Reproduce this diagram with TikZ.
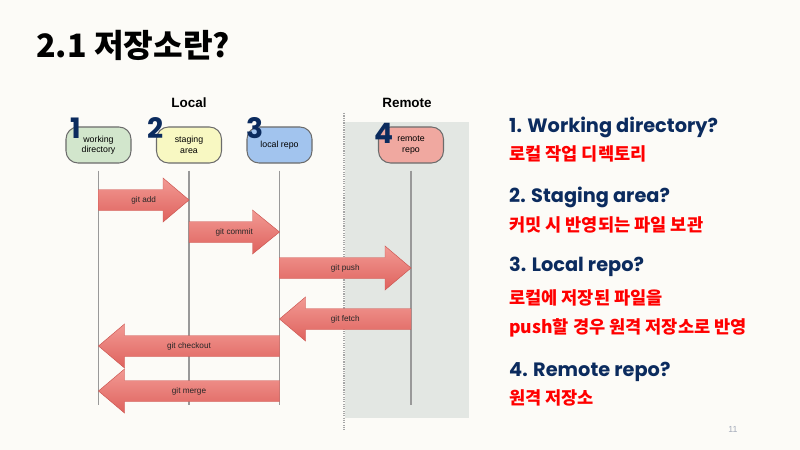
\documentclass[tikz,border=0pt]{standalone}
\usepackage{fontspec}
\setmainfont{Liberation Sans}
\newfontfamily\krfont{Noto Sans CJK KR}
\newfontfamily\headfont{Poppins}
\usetikzlibrary{calc,positioning}

\definecolor{paper}{HTML}{FCFBF7}
\definecolor{navy}{HTML}{0B2B5E}
\definecolor{remotebg}{HTML}{E3E7E3}
\definecolor{wdfill}{HTML}{D2E6CC}
\definecolor{stfill}{HTML}{F8F8C2}
\definecolor{lrfill}{HTML}{A2C4EE}
\definecolor{rrfill}{HTML}{F0A8A0}
\definecolor{arrowtop}{HTML}{F29A94}
\definecolor{arrowbot}{HTML}{DF625D}
\definecolor{arrowedge}{HTML}{CC5550}
\definecolor{pagegray}{HTML}{A4ABBA}

\tikzset{
  repo/.style={draw=gray!85!black, line width=0.9pt, rounded corners=0.36cm,
    minimum width=1.95cm, minimum height=1.08cm, align=center,
    font=\fontsize{7.5}{8.8}\selectfont, inner sep=1pt},
  lifeline/.style={draw=gray!80, line width=1.1pt},
  blockarr/.style={draw=arrowedge, line width=0.4pt, top color=arrowtop, bottom color=arrowbot},
  arrlabel/.style={font=\fontsize{7}{8}\selectfont, text=black!85},
  numlabel/.style={font=\headfont\bfseries\fontsize{24}{24}\selectfont, text=navy, inner sep=0},
  qhead/.style={anchor=west, font=\headfont\bfseries\fontsize{16.5}{18}\selectfont, text=navy, inner sep=0},
  qbody/.style={anchor=west, font=\krfont\bfseries\fontsize{15}{17}\selectfont, text=red, inner sep=0},
}

% block arrow between two lifelines: from, to, y, head offset, label
\newcommand{\gitarrow}[5]{%
  \coordinate (tail) at (#1 |- 0,#3);
  \coordinate (tip) at (#2 |- 0,#3);
  \draw[blockarr] ($(tail)+(0,-10.5)$) -- ($(tip)+(#4,-10.5)$) -- ($(tip)+(#4,-22)$)
    -- (tip) -- ($(tip)+(#4,22)$) -- ($(tip)+(#4,10.5)$) -- ($(tail)+(0,10.5)$) -- cycle;
  \node[arrlabel] at ($(tail)!0.5!(tip)$) {#5};
}

\begin{document}
\begin{tikzpicture}[x=0.03cm, y=-0.03cm]
  % page
  \fill[paper] (0,0) rectangle (800,450);
  \node[anchor=west, inner sep=0, font=\krfont\bfseries\fontsize{27.5}{30}\selectfont] (title) at (36,45) {2.1 저장소란?};

  % remote area
  \fill[remotebg] (345,122) rectangle (469,418);
  \draw[gray!70, densely dotted, line width=1pt] (344,113) -- (344,430);
  \node[font=\bfseries\fontsize{11.5}{12}\selectfont] (local) at (189,103) {Local};
  \node[font=\bfseries\fontsize{11.5}{12}\selectfont] (remote) at (407,103) {Remote};

  % repositories
  \node[repo, fill=wdfill] (wd) at (98.5,145) {working\\directory};
  \node[repo, fill=stfill] (st) at (189,145) {staging\\area};
  \node[repo, fill=lrfill] (lr) at (279.5,145) {local repo};
  \node[repo, fill=rrfill] (rr) at (411,145) {remote\\repo};

  \foreach \n in {wd, st, lr, rr} {
    \draw[lifeline] ($(\n.south)+(0,7)$) -- (\n |- 0,405);
  }

  \node[numlabel] (n1) at (76,128) {1};
  \node[numlabel] (n2) at (156,128) {2};
  \node[numlabel] (n3) at (255,128) {3};
  \node[numlabel] (n4) at (384,133) {4};

  % commands
  \gitarrow{wd}{st}{200}{-26}{git add}
  \gitarrow{st}{lr}{232}{-27}{git commit}
  \gitarrow{lr}{rr}{268}{-26}{git push}
  \gitarrow{rr}{lr}{319}{26}{git fetch}
  \gitarrow{lr}{wd}{346}{26}{git checkout}
  \gitarrow{lr}{wd}{391}{26}{git merge}

  % explanations
  \node[qhead] (q1) at (509,127) {1. Working directory?};
  \node[qbody] (a1) at (509,154) {로컬 작업 디렉토리};
  \node[qhead] (q2) at (509,197) {2. Staging area?};
  \node[qbody] (a2) at (509,225) {커밋 시 반영되는 파일 보관};
  \node[qhead] (q3) at (509,267) {3. Local repo?};
  \node[qbody] (a3) at (509,298) {로컬에 저장된 파일을};
  \node[qbody] (a3b) at (509,328) {push할 경우 원격 저장소로 반영};
  \node[qhead] (q4) at (509,372) {4. Remote repo?};
  \node[qbody] (a4) at (509,398) {원격 저장소};

  \node[text=pagegray, font=\fontsize{7.5}{8}\selectfont] (page) at (733,429) {11};
\end{tikzpicture}
\end{document}
